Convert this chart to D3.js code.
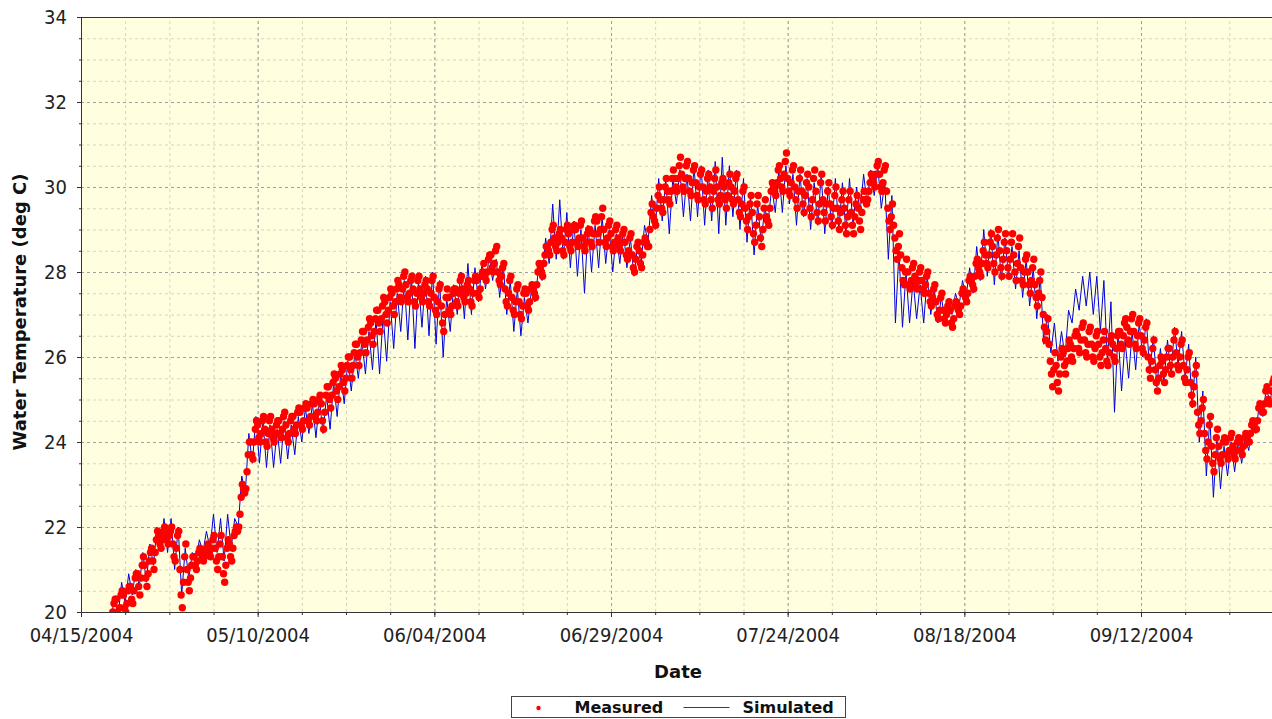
<!DOCTYPE html>
<html>
<head>
<meta charset="utf-8">
<script src="https://cdn.jsdelivr.net/npm/d3@7"></script>
<style>
  body { margin: 0; background: #fff; }
</style>
</head>
<body>
<div id="graph-area"></div>
<script>
// axis ticks
const X_TICK_DATES = ['2004-04-15', '2004-05-10', '2004-06-04', '2004-06-29', '2004-07-24', '2004-08-18', '2004-09-12']
const X_TICK_LABELS = ['04/15/2004', '05/10/2004', '06/04/2004', '06/29/2004', '07/24/2004', '08/18/2004', '09/12/2004']
const Y_TICKS = [20, 22, 24, 26, 28, 30, 32, 34]
const SERIES_NAMES = ['Measured', 'Simulated']

// measured water temperature, one reading every 4 hours (one line = one day)
const MEASURED_START = '2004-04-19T12:00:00Z'
const MEASURED_STEP_HOURS = 4
const measured = [
  20.0, 20.2, 20.3,
  20.3, 20.0, 19.9, 20.1, 20.4, 20.5,  20.4, 20.1, 20.0, 20.2, 20.5, 20.6,
  20.6, 20.3, 20.2, 20.5, 20.8, 20.9,  20.9, 20.6, 20.4, 20.8, 21.1, 21.3,
  21.1, 20.8, 20.6, 20.9, 21.2, 21.4,  21.5, 21.2, 21.0, 21.4, 21.7, 21.9,
  21.8, 21.6, 21.5, 21.7, 21.9, 22.0,  21.8, 21.7, 21.6, 21.8, 21.9, 22.0,
  21.6, 21.3, 21.2, 21.5, 21.8, 21.9,  21.0, 20.4, 20.1, 20.7, 21.3, 21.6,
  21.0, 20.7, 20.5, 20.8, 21.1, 21.3,  21.3, 21.1, 21.0, 21.2, 21.4, 21.5,
  21.4, 21.3, 21.2, 21.3, 21.4, 21.5,  21.6, 21.4, 21.3, 21.5, 21.7, 21.8,
  21.5, 21.2, 21.0, 21.3, 21.6, 21.8,  21.3, 20.9, 20.7, 21.1, 21.5, 21.7,
  21.6, 21.3, 21.2, 21.5, 21.8, 21.9,  22.0, 21.9, 22.0, 22.3, 22.7, 23.0,
  22.9, 22.8, 22.9, 23.3, 23.7, 24.0,  24.0, 23.7, 23.6, 24.0, 24.3, 24.5,
  24.4, 24.1, 24.0, 24.2, 24.5, 24.6,  24.3, 24.0, 23.9, 24.2, 24.5, 24.6,
  24.3, 24.1, 24.0, 24.2, 24.4, 24.5,  24.5, 24.2, 24.1, 24.3, 24.6, 24.7,
  24.4, 24.1, 24.0, 24.2, 24.5, 24.6,  24.6, 24.3, 24.2, 24.4, 24.7, 24.8,
  24.7, 24.4, 24.3, 24.5, 24.8, 24.9,  24.8, 24.5, 24.4, 24.6, 24.9, 25.0,
  24.9, 24.6, 24.5, 24.7, 25.0, 25.1,  24.9, 24.5, 24.3, 24.7, 25.1, 25.3,
  25.3, 25.0, 24.8, 25.1, 25.4, 25.6,  25.5, 25.2, 25.0, 25.3, 25.6, 25.8,
  25.7, 25.4, 25.2, 25.5, 25.8, 26.0,  26.0, 25.7, 25.5, 25.8, 26.1, 26.3,
  26.3, 26.0, 25.8, 26.1, 26.4, 26.6,  26.6, 26.3, 26.1, 26.4, 26.7, 26.9,
  26.8, 26.5, 26.3, 26.6, 26.9, 27.1,  27.1, 26.8, 26.6, 26.9, 27.2, 27.4,
  27.3, 27.0, 26.8, 27.1, 27.4, 27.6,  27.5, 27.2, 27.0, 27.3, 27.6, 27.8,
  27.7, 27.4, 27.3, 27.6, 27.9, 28.0,  27.7, 27.4, 27.3, 27.5, 27.8, 27.9,
  27.6, 27.3, 27.2, 27.5, 27.8, 27.9,  27.6, 27.4, 27.3, 27.5, 27.7, 27.8,
  27.6, 27.3, 27.2, 27.5, 27.8, 27.9,  27.4, 27.1, 27.0, 27.3, 27.6, 27.7,
  27.2, 26.8, 26.6, 27.0, 27.4, 27.6,  27.4, 27.1, 27.0, 27.2, 27.5, 27.6,
  27.6, 27.3, 27.2, 27.5, 27.8, 27.9,  27.6, 27.4, 27.3, 27.5, 27.7, 27.8,
  27.6, 27.3, 27.2, 27.5, 27.8, 27.9,  27.8, 27.5, 27.4, 27.6, 27.9, 28.0,
  28.2, 27.9, 27.8, 28.0, 28.3, 28.4,  28.4, 28.1, 28.0, 28.2, 28.5, 28.6,
  28.0, 27.8, 27.7, 27.9, 28.1, 28.2,  27.6, 27.3, 27.2, 27.5, 27.8, 27.9,
  27.4, 27.1, 27.0, 27.3, 27.6, 27.7,  27.3, 27.0, 26.9, 27.2, 27.5, 27.6,
  27.5, 27.2, 27.1, 27.3, 27.6, 27.7,  27.6, 27.5, 27.4, 27.7, 28.0, 28.2,
  28.1, 28.0, 27.9, 28.2, 28.4, 28.6,  28.6, 28.5, 28.4, 28.7, 29.0, 29.1,
  28.8, 28.6, 28.5, 28.7, 28.9, 29.0,  28.8, 28.5, 28.4, 28.7, 29.0, 29.1,
  28.9, 28.6, 28.5, 28.7, 29.0, 29.1,  29.0, 28.7, 28.6, 28.8, 29.1, 29.2,
  28.8, 28.6, 28.5, 28.7, 28.9, 29.0,  29.0, 28.7, 28.6, 28.9, 29.2, 29.3,
  29.2, 28.9, 28.7, 29.0, 29.3, 29.5,  29.0, 28.7, 28.6, 28.8, 29.1, 29.2,
  28.9, 28.6, 28.5, 28.7, 29.0, 29.1,  28.8, 28.6, 28.5, 28.7, 28.9, 29.0,
  28.7, 28.4, 28.3, 28.5, 28.8, 28.9,  28.4, 28.1, 28.0, 28.3, 28.6, 28.7,
  28.5, 28.2, 28.1, 28.4, 28.7, 28.8,  28.7, 28.6, 28.6, 29.0, 29.4, 29.6,
  29.3, 29.2, 29.1, 29.5, 29.8, 30.0,  29.7, 29.5, 29.4, 29.7, 30.0, 30.2,
  29.9, 29.7, 29.6, 29.9, 30.2, 30.4,  30.2, 30.0, 29.9, 30.2, 30.5, 30.7,
  30.3, 30.0, 29.9, 30.2, 30.5, 30.6,  30.2, 29.9, 29.8, 30.1, 30.4, 30.5,
  30.1, 29.8, 29.7, 30.0, 30.3, 30.4,  30.0, 29.7, 29.6, 29.9, 30.2, 30.3,
  30.0, 29.7, 29.5, 29.9, 30.2, 30.4,  30.0, 29.7, 29.6, 29.8, 30.1, 30.2,
  30.0, 29.7, 29.5, 29.8, 30.1, 30.3,  30.0, 29.7, 29.6, 29.9, 30.2, 30.3,
  29.7, 29.4, 29.3, 29.6, 29.9, 30.0,  29.5, 29.2, 29.0, 29.3, 29.6, 29.8,
  29.4, 28.9, 28.7, 29.1, 29.6, 29.8,  29.3, 28.8, 28.6, 29.0, 29.5, 29.7,
  29.3, 29.2, 29.1, 29.5, 29.9, 30.1,  30.0, 29.9, 29.8, 30.1, 30.4, 30.5,
  30.2, 30.0, 29.9, 30.3, 30.6, 30.8,  30.2, 29.9, 29.8, 30.1, 30.4, 30.5,
  30.0, 29.7, 29.5, 29.9, 30.2, 30.4,  29.9, 29.6, 29.4, 29.8, 30.1, 30.3,
  30.0, 29.5, 29.3, 29.7, 30.2, 30.4,  29.9, 29.4, 29.2, 29.6, 30.1, 30.3,
  29.7, 29.4, 29.2, 29.6, 29.9, 30.1,  29.6, 29.3, 29.1, 29.5, 29.8, 30.0,
  29.5, 29.2, 29.0, 29.4, 29.7, 29.9,  29.5, 29.1, 28.9, 29.3, 29.7, 29.9,
  29.4, 29.1, 28.9, 29.3, 29.6, 29.8,  29.5, 29.2, 29.0, 29.4, 29.7, 29.9,
  29.7, 29.6, 29.7, 29.9, 30.1, 30.3,  30.2, 30.1, 30.0, 30.3, 30.5, 30.6,
  30.3, 30.0, 29.9, 30.1, 30.4, 30.5,  29.9, 29.5, 29.2, 29.0, 29.3, 29.6,
  29.1, 28.8, 28.5, 28.3, 28.6, 28.9,  28.4, 28.1, 27.8, 27.7, 28.0, 28.3,
  28.0, 27.7, 27.6, 27.8, 28.1, 28.2,  27.9, 27.7, 27.6, 27.8, 28.0, 28.1,
  27.8, 27.6, 27.5, 27.7, 27.9, 28.0,  27.5, 27.3, 27.2, 27.4, 27.6, 27.7,
  27.3, 27.0, 26.9, 27.1, 27.4, 27.5,  27.1, 26.9, 26.8, 27.0, 27.2, 27.3,
  27.1, 26.8, 26.7, 26.9, 27.2, 27.3,  27.2, 27.1, 27.0, 27.2, 27.5, 27.6,
  27.5, 27.4, 27.3, 27.5, 27.8, 27.9,  27.8, 27.7, 27.6, 27.9, 28.2, 28.3,
  28.1, 28.0, 27.9, 28.2, 28.5, 28.7,  28.4, 28.2, 28.1, 28.4, 28.7, 28.9,
  28.6, 28.2, 28.0, 28.4, 28.8, 29.0,  28.5, 28.1, 27.9, 28.3, 28.7, 28.9,
  28.5, 28.1, 27.9, 28.3, 28.7, 28.9,  28.4, 28.0, 27.8, 28.2, 28.6, 28.8,
  28.1, 27.8, 27.7, 28.0, 28.3, 28.4,  28.0, 27.7, 27.5, 27.8, 28.1, 28.3,
  27.7, 27.4, 27.2, 27.5, 27.8, 28.0,  27.4, 27.0, 26.7, 26.4, 26.6, 26.9,
  26.3, 25.9, 25.6, 25.3, 25.7, 26.1,  25.8, 25.4, 25.2, 25.6, 26.0, 26.2,
  26.1, 25.8, 25.6, 25.9, 26.2, 26.4,  26.3, 26.0, 25.9, 26.2, 26.5, 26.6,
  26.5, 26.2, 26.1, 26.4, 26.7, 26.8,  26.4, 26.1, 26.0, 26.3, 26.6, 26.7,
  26.3, 26.0, 25.9, 26.2, 26.5, 26.6,  26.3, 26.0, 25.8, 26.1, 26.4, 26.6,
  26.2, 25.9, 25.8, 26.1, 26.4, 26.5,  26.3, 26.0, 25.9, 26.2, 26.5, 26.6,
  26.6, 26.3, 26.2, 26.5, 26.8, 26.9,  26.7, 26.4, 26.3, 26.6, 26.9, 27.0,
  26.6, 26.3, 26.2, 26.5, 26.8, 26.9,  26.5, 26.2, 26.1, 26.4, 26.7, 26.8,
  26.0, 25.7, 25.5, 25.9, 26.2, 26.4,  25.7, 25.4, 25.2, 25.5, 25.8, 26.0,
  25.9, 25.6, 25.4, 25.7, 26.0, 26.2,  26.2, 25.8, 25.6, 26.0, 26.4, 26.6,
  26.1, 25.8, 25.7, 26.0, 26.3, 26.4,  25.8, 25.5, 25.4, 25.7, 26.0, 26.1,
  25.4, 25.1, 24.9, 25.3, 25.6, 25.8,  24.7, 24.4, 24.2, 24.5, 24.8, 25.0,
  24.2, 23.8, 23.6, 24.0, 24.4, 24.6,  23.9, 23.5, 23.3, 23.7, 24.1, 24.3,
  23.9, 23.6, 23.5, 23.7, 24.0, 24.1,  24.0, 23.7, 23.6, 23.8, 24.1, 24.2,
  23.9, 23.7, 23.6, 23.8, 24.0, 24.1,  24.0, 23.8, 23.7, 23.9, 24.1, 24.2,
  24.1, 24.0, 24.0, 24.2, 24.4, 24.5,  24.4, 24.3, 24.3, 24.5, 24.8, 24.9,
  24.8, 24.7, 24.7, 24.9, 25.2, 25.3,  25.0, 24.9, 24.9, 25.2, 25.4, 25.5
]

// simulated water temperature, one value every 12 hours
const SIMULATED_START = '2004-04-19T06:00:00Z'
const SIMULATED_STEP_HOURS = 12
const simulated = [
  19.9, 20.3, 19.9, 20.7, 20.2, 20.9, 20.4, 21.0, 20.6, 21.4, 20.7, 21.6, 21.1, 22.0, 21.5, 22.2,
  21.4, 22.2, 21.0, 22.0, 20.4, 21.5, 20.8, 21.4, 21.2, 21.7, 21.4, 21.9, 21.5, 22.3, 21.4, 22.2,
  21.2, 22.3, 21.5, 22.2, 22.0, 23.2, 22.8, 24.2, 23.5, 24.6, 23.5, 24.5, 23.4, 24.4, 23.4, 24.3,
  23.5, 24.5, 23.6, 24.4, 23.7, 24.6, 24.0, 24.8, 24.2, 24.9, 24.1, 25.0, 24.2, 25.1, 24.3, 25.4,
  24.6, 25.6, 24.9, 25.9, 25.2, 26.1, 25.5, 26.4, 25.6, 26.6, 25.7, 26.9, 25.6, 27.0, 25.9, 27.3,
  26.2, 27.5, 26.6, 27.8, 26.4, 27.9, 26.2, 27.8, 26.7, 27.9, 26.5, 28.0, 26.3, 27.8, 26.0, 27.4,
  26.6, 27.7, 27.0, 28.0, 26.9, 28.2, 27.0, 28.1, 27.3, 28.2, 27.6, 28.4, 27.8, 28.3, 27.4, 28.2,
  27.0, 27.8, 26.6, 27.6, 26.5, 27.4, 26.8, 27.6, 27.3, 28.1, 27.8, 28.8, 28.2, 29.6, 28.3, 29.7,
  28.3, 29.4, 28.1, 29.2, 27.9, 29.0, 27.5, 29.1, 28.0, 29.1, 28.1, 29.3, 28.2, 29.0, 28.0, 28.9,
  28.2, 29.0, 28.1, 28.8, 27.9, 28.6, 28.2, 29.1, 28.7, 29.8, 29.0, 30.2, 29.2, 30.2, 28.9, 30.2,
  29.6, 30.4, 29.3, 30.3, 29.2, 30.5, 29.3, 30.5, 29.1, 30.4, 29.2, 30.6, 28.9, 30.7, 29.1, 30.5,
  29.3, 30.4, 29.0, 30.2, 28.7, 29.8, 28.4, 29.6, 28.7, 29.5, 29.2, 30.0, 29.4, 30.4, 29.4, 30.5,
  29.6, 30.3, 29.1, 30.3, 29.3, 30.2, 29.0, 30.1, 29.1, 30.3, 28.9, 30.0, 29.0, 30.2, 29.0, 30.1,
  28.9, 30.2, 29.1, 30.0, 29.4, 30.3, 29.6, 30.4, 29.8, 30.5, 29.5, 30.1, 28.3, 29.8, 26.8, 28.5,
  26.7, 28.0, 26.8, 27.8, 26.9, 27.7, 26.8, 27.9, 27.0, 27.6, 26.8, 27.4, 26.9, 27.3, 27.0, 27.5,
  27.2, 27.8, 27.4, 28.1, 27.5, 28.6, 27.8, 29.0, 27.9, 29.0, 27.7, 28.9, 27.8, 28.8, 27.9, 28.6,
  27.6, 28.5, 27.4, 28.3, 27.2, 28.1, 26.9, 27.9, 26.3, 27.0, 26.1, 26.8, 25.9, 26.6, 26.0, 27.1,
  26.8, 27.6, 27.1, 27.9, 27.2, 28.0, 27.0, 27.9, 26.6, 27.8, 25.9, 27.3, 24.7, 26.6, 25.2, 26.4,
  25.5, 26.6, 25.7, 26.8, 26.0, 26.9, 25.6, 26.5, 25.3, 26.2, 25.4, 26.4, 25.6, 26.7, 25.8, 26.6,
  25.5, 26.3, 24.8, 26.0, 24.0, 25.2, 23.2, 24.6, 22.7, 24.1, 22.9, 23.9, 23.2, 24.0, 23.3, 24.0,
  23.5, 24.1, 23.8, 24.5, 24.2, 24.9, 24.6, 25.3, 24.9, 25.5
]

const FONT = '"DejaVu Sans Condensed", "Liberation Sans", sans-serif'
const BOLD_FONT = '"DejaVu Sans", sans-serif'
const DAY = 24 * 3600 * 1000

// set the dimensions and margins of the graph
var margin = { top: 17, right: 0, bottom: 107, left: 81 }
var width = 1272 - margin.left - margin.right
var height = 719 - margin.top - margin.bottom

var svg = d3
  .select('#graph-area')
  .append('svg')
  .attr('width', width + margin.left + margin.right)
  .attr('height', height + margin.top + margin.bottom)

var container = svg
  .append('g')
  .attr('transform', 'translate(' + margin.left + ',' + margin.top + ')')

// scales
var startDate = new Date(X_TICK_DATES[0] + 'T00:00:00Z')
var xScale = d3
  .scaleUtc()
  .domain([startDate, new Date(+startDate + 168.54 * DAY)])
  .range([0, width])

var yScale = d3
  .scaleLinear()
  .domain([Y_TICKS[0], Y_TICKS[Y_TICKS.length - 1]])
  .range([height, 0])

var majorDates = X_TICK_DATES.map(d => new Date(d + 'T00:00:00Z'))
var minorDates = d3.range(0, 169, 6.25).map(d => new Date(+startDate + d * DAY))
var minorTemps = d3.range(Y_TICKS[0], Y_TICKS[Y_TICKS.length - 1] + 0.01, 0.5)

// plot background
container
  .append('rect')
  .attr('width', width)
  .attr('height', height)
  .attr('fill', '#ffffe0')

// grid lines
function styleGrid(g, color) {
  g.select('.domain').remove()
  g.selectAll('text').remove()
  g.selectAll('line').attr('stroke', color).attr('stroke-dasharray', '3,3')
}
container.append('g')
  .call(d3.axisLeft(yScale).tickValues(minorTemps).tickSize(-width).tickFormat(''))
  .call(g => styleGrid(g, '#d4d4c4'))
container.append('g')
  .attr('transform', 'translate(0,' + height + ')')
  .call(d3.axisBottom(xScale).tickValues(minorDates).tickSize(-height).tickFormat(''))
  .call(g => styleGrid(g, '#d4d4c4'))
container.append('g')
  .call(d3.axisLeft(yScale).tickValues(Y_TICKS).tickSize(-width).tickFormat(''))
  .call(g => styleGrid(g, '#a0a0a0'))
container.append('g')
  .attr('transform', 'translate(0,' + height + ')')
  .call(d3.axisBottom(xScale).tickValues(majorDates).tickSize(-height).tickFormat(''))
  .call(g => styleGrid(g, '#a0a0a0'))

// data series
var plot = container.append('g').attr('clip-path', 'url(#plot-clip)')
svg.append('defs').append('clipPath').attr('id', 'plot-clip')
  .append('rect').attr('width', width).attr('height', height)

var simStart = +new Date(SIMULATED_START)
var simulatedPoints = simulated.map((v, i) => ({ date: new Date(simStart + i * SIMULATED_STEP_HOURS * 3600e3), value: v }))
var measStart = +new Date(MEASURED_START)
var measuredPoints = measured.map((v, i) => ({ date: new Date(measStart + i * MEASURED_STEP_HOURS * 3600e3), value: v }))

plot.append('path')
  .datum(simulatedPoints)
  .attr('fill', 'none')
  .attr('stroke', '#0000dd')
  .attr('stroke-width', 1)
  .attr('d', d3.line().x(d => xScale(d.date)).y(d => yScale(d.value)))

plot.selectAll('.dot')
  .data(measuredPoints)
  .enter()
  .append('circle')
  .classed('dot', true)
  .attr('cx', d => xScale(d.date))
  .attr('cy', d => yScale(d.value))
  .attr('r', 3.7)
  .attr('fill', '#ff0000')

// axes
function styleAxis(g) {
  g.select('.domain').attr('stroke', '#333')
  g.selectAll('line').attr('stroke', '#333')
  g.selectAll('text').attr('font-family', FONT).attr('font-size', 20).attr('fill', '#222')
}
container.append('g')
  .call(d3.axisLeft(yScale).tickValues(minorTemps).tickSize(2).tickSizeOuter(0).tickFormat(''))
  .call(styleAxis)
container.append('g')
  .call(d3.axisLeft(yScale).tickValues(Y_TICKS).tickSize(4).tickSizeOuter(0).tickPadding(10))
  .call(styleAxis)
container.append('g')
  .attr('transform', 'translate(0,' + height + ')')
  .call(d3.axisBottom(xScale).tickValues(minorDates).tickSize(3).tickSizeOuter(0).tickFormat(''))
  .call(styleAxis)
container.append('g')
  .attr('transform', 'translate(0,' + height + ')')
  .call(d3.axisBottom(xScale).tickValues(majorDates).tickSize(5).tickSizeOuter(0).tickPadding(11)
    .tickFormat((d, i) => X_TICK_LABELS[i]))
  .call(styleAxis)

// top border
container.append('line')
  .attr('x1', 0).attr('x2', width)
  .attr('y1', 0.5).attr('y2', 0.5)
  .attr('stroke', '#333')

// axis titles
svg.append('text')
  .attr('transform', 'translate(26,312) rotate(-90)')
  .attr('text-anchor', 'middle')
  .attr('font-family', BOLD_FONT)
  .attr('font-weight', 'bold')
  .attr('font-size', 18)
  .attr('fill', '#111')
  .text('Water Temperature (deg C)')

svg.append('text')
  .attr('x', 678).attr('y', 678)
  .attr('text-anchor', 'middle')
  .attr('font-family', BOLD_FONT)
  .attr('font-weight', 'bold')
  .attr('font-size', 18)
  .attr('fill', '#111')
  .text('Date')

// legend
var legend = svg.append('g').attr('transform', 'translate(511.5,696.5)')
legend.append('rect')
  .attr('width', 334).attr('height', 21)
  .attr('fill', '#fff').attr('stroke', '#444')
legend.append('circle')
  .attr('cx', 27).attr('cy', 11.5).attr('r', 2.2).attr('fill', '#ff0000')
legend.append('line')
  .attr('x1', 172).attr('x2', 218).attr('y1', 11).attr('y2', 11)
  .attr('stroke', '#3030a0').attr('stroke-width', 1)
legend.selectAll('.legend-label')
  .data(SERIES_NAMES)
  .enter()
  .append('text')
  .classed('legend-label', true)
  .attr('x', (d, i) => (i === 0 ? 63 : 231))
  .attr('y', 16.5)
  .attr('font-family', BOLD_FONT)
  .attr('font-weight', 'bold')
  .attr('font-size', 16)
  .attr('fill', '#111')
  .text(d => d)
</script>
</body>
</html>
